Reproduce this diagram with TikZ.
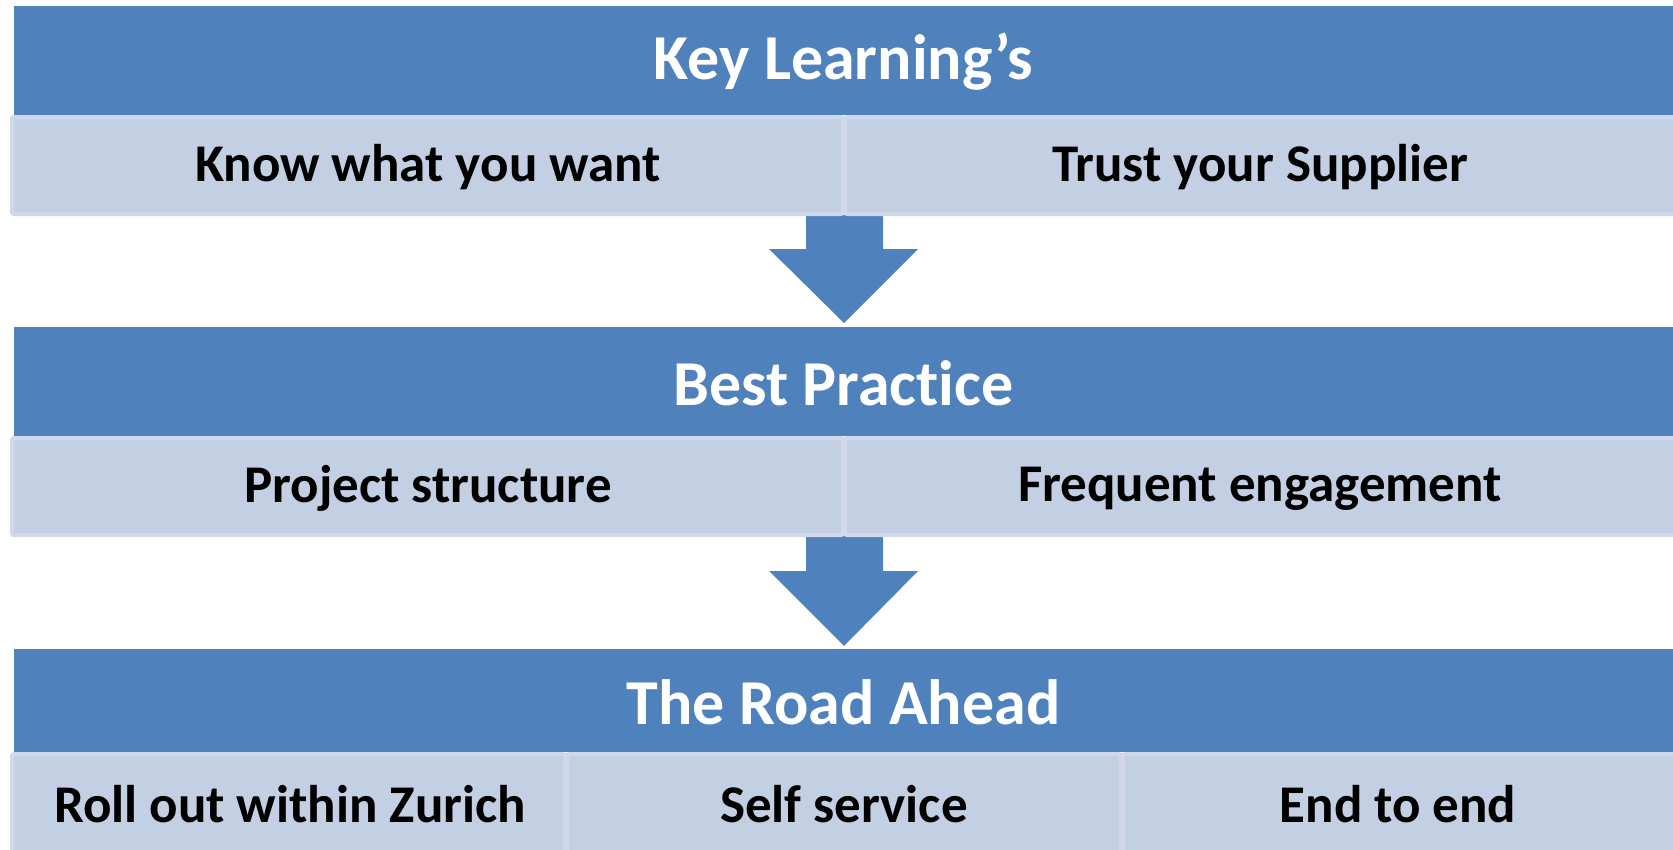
\documentclass[tikz,border=0pt]{standalone}
\usepackage{fontspec}
\setmainfont[Ligatures={NoCommon}]{Carlito}
\definecolor{hdrblue}{HTML}{4F81BD}
\definecolor{cellfill}{HTML}{C3CFE3}
\definecolor{cellline}{HTML}{D0D8E9}
\tikzset{
  hdr/.style={fill=hdrblue, draw=none},
  hdrtext/.style={text=white, font=\fontsize{64}{72}\selectfont\bfseries, inner sep=0pt},
  cell/.style={fill=cellfill, draw=cellline, line width=4pt, rounded corners=2pt},
  celltext/.style={text=black, font=\fontsize{53}{62}\selectfont\bfseries, inner sep=0pt},
  blockarrow/.style={fill=hdrblue, draw=none}
}
\begin{document}
\begin{tikzpicture}[x=1pt,y=-1pt]
\useasboundingbox (0,0) rectangle (1673,849);
% arrows (behind rows)
\fill[blockarrow] (806,210) -- (883,210) -- (883,249) -- (918,249) -- (844,323) -- (769,249) -- (806,249) -- cycle;
\fill[blockarrow] (806,532) -- (883,532) -- (883,571) -- (918,571) -- (844,646) -- (769,571) -- (806,571) -- cycle;
% headers
\fill[hdr] (14,6) rectangle (1673,115);
\node[hdrtext] (h1) at (843.5,62) {Key Learning’s};
\fill[hdr] (14,327) rectangle (1673,436);
\node[hdrtext] (h2) at (843.5,383) {Best Practice};
\fill[hdr] (14,649) rectangle (1673,752);
\node[hdrtext] (h3) at (843.5,702) {The Road Ahead};
% row 1
\draw[cell] (12,117) rectangle (843,214);
\draw[cell] (845,117) rectangle (1680,214);
\node[celltext] (r1a) at (428,167.5) {Know what you want};
\node[celltext] (r1b) at (1260,167.5) {Trust your Supplier};
% row 2
\draw[cell] (12,438) rectangle (843,535);
\draw[cell] (845,438) rectangle (1680,535);
\node[celltext] (r2a) at (428,488.5) {Project structure};
\node[celltext] (r2b) at (1260,488.5) {Frequent engagement};
% row 3
\draw[cell] (12,754) rectangle (565,860);
\draw[cell] (567,754) rectangle (1121,860);
\draw[cell] (1123,754) rectangle (1680,860);
\node[celltext] (r3a) at (290,804) {Roll out within Zurich};
\node[celltext] (r3b) at (844,804) {Self service};
\node[celltext] (r3c) at (1398,804) {End to end};
\end{tikzpicture}
\end{document}
